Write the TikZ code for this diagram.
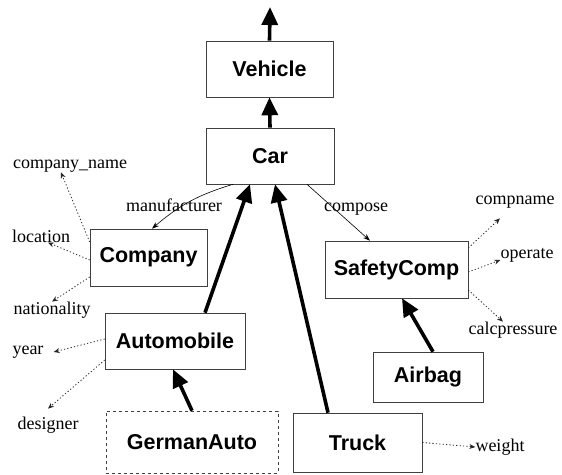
\documentclass[tikz,border=0pt]{standalone}
\usepackage{fontspec}
\setmainfont{Liberation Serif}
\newfontfamily\boxfont{Liberation Sans}
\usetikzlibrary{arrows.meta}
\tikzset{
  cls/.style={draw=black!75, line width=0.6pt, fill=white, inner sep=0pt,
    font=\boxfont\bfseries\fontsize{21.5}{24}\selectfont},
  germ/.style={cls, dashed},
  attr/.style={inner sep=0pt, font=\fontsize{18}{20}\selectfont},
  isa/.style={line width=3.6pt, -{Triangle[length=18pt,width=16pt]}},
  rel/.style={line width=0.6pt, -{Stealth[length=7pt,width=5pt]}},
  att/.style={line width=0.8pt, black!85, dash pattern=on 1.2pt off 2.2pt, -{Stealth[length=6pt,width=5pt]}},
}
\begin{document}
\begin{tikzpicture}[x=1pt,y=-1pt]
\useasboundingbox (0,0) rectangle (562,474);

% class boxes
\node[cls, minimum width=127pt, minimum height=56pt] (vehicle) at (269.5,69) {Vehicle};
\node[cls, minimum width=128pt, minimum height=56pt] (car) at (270,156) {Car};
\node[cls, minimum width=117pt, minimum height=57pt] (company) at (148.5,257.5) {Company};
\node[cls, minimum width=143pt, minimum height=57pt] (safety) at (396.5,269.5) {SafetyComp};
\node[cls, minimum width=140pt, minimum height=56pt] (auto) at (175,341) {Automobile};
\node[cls, minimum width=110pt, minimum height=50pt] (airbag) at (428,377) {Airbag};
\node[germ, minimum width=172pt, minimum height=62pt] (german) at (192,442) {GermanAuto};
\node[cls, minimum width=129pt, minimum height=59pt] (truck) at (357.5,442.5) {Truck};

\coordinate (top) at (270,7);

% attribute labels
\node[attr] (cname) at (70,166) {company\_name};
\node[attr] (loc) at (41,236) {location};
\node[attr] (nat) at (52,310) {nationality};
\node[attr] (year) at (28,352) {year};
\node[attr] (desig) at (48,425) {designer};
\node[attr] (cmp) at (515,202) {compname};
\node[attr] (op) at (527,255) {operate};
\node[attr] (calc) at (513,330) {calcpressure};
\node[attr] (weight) at (500,447) {weight};
\node[attr] (manuf) at (174,205) {manufacturer};
\node[attr] (compose) at (356,209) {compose};

% inheritance arrows
\draw[isa] (vehicle.north) -- (top);
\draw[isa] (car.north) -- (vehicle.south);
\draw[isa] ([xshift=30pt]auto.north) -- ([xshift=-20pt]car.south);
\draw[isa] ([xshift=-29.5pt]truck.north) -- ([xshift=5pt]car.south);
\draw[isa] ([xshift=5pt]airbag.north) -- ([xshift=5.5pt]safety.south);
\draw[isa] (german.north) -- ([xshift=-2pt]auto.south);

% relationships
\draw[rel] ([xshift=-37pt]car.south) to[bend right=12] ([xshift=3.5pt]company.north);
\draw[rel] ([xshift=37pt]car.south) -- ([xshift=-26.5pt]safety.north);

% attributes
\draw[att] ([yshift=15.5pt]company.west) -- ([xshift=-9pt]cname.south);
\draw[att] ([yshift=-2.5pt]company.west) -- ([xshift=7pt]loc.south);
\draw[att] ([yshift=-19.5pt]company.west) -- (nat.north);
\draw[att] ([yshift=21.5pt]safety.east) -- ([xshift=-15pt,yshift=-10pt]cmp.south);
\draw[att] ([yshift=-2.5pt]safety.east) -- ([yshift=-5pt]op.west);
\draw[att] ([yshift=-20.5pt]safety.east) -- ([xshift=-10pt]calc.north);
\draw[att] ([yshift=2pt]auto.west) -- ([xshift=10pt]year.east);
\draw[att] ([yshift=-19pt]auto.west) -- ([yshift=8pt]desig.north);
\draw[att] (truck.east) -- (weight.west);
\end{tikzpicture}
\end{document}
